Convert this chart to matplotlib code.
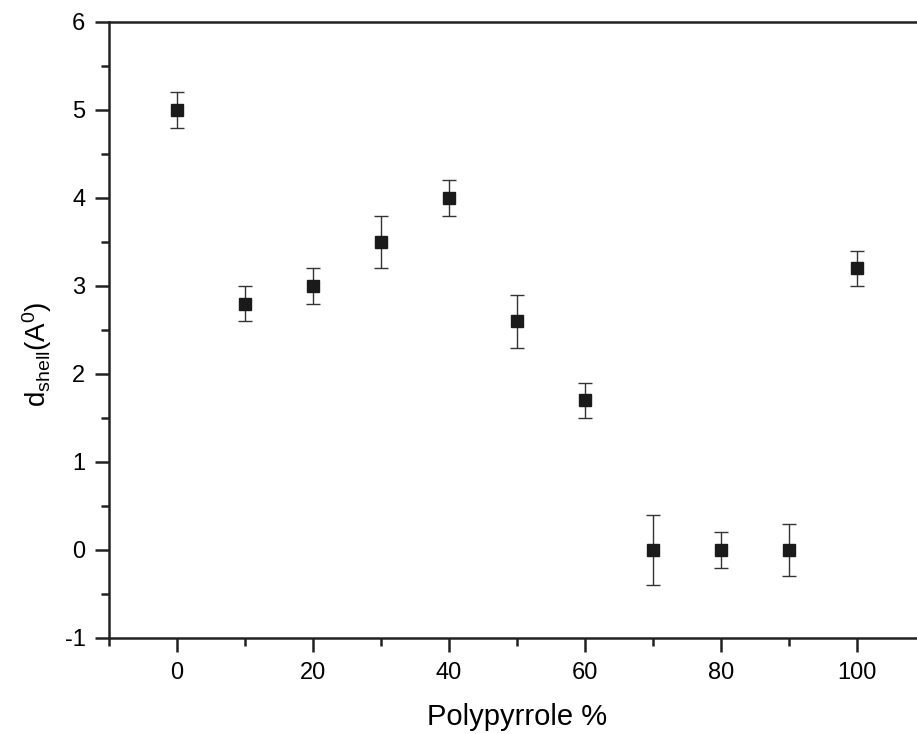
import matplotlib
matplotlib.use("Agg")
import matplotlib.pyplot as plt
from matplotlib.ticker import MultipleLocator

plt.rcParams["font.family"] = ["Liberation Sans", "DejaVu Sans"]
plt.rcParams["mathtext.fontset"] = "custom"
plt.rcParams["mathtext.rm"] = "Liberation Sans"
plt.rcParams["mathtext.it"] = "Liberation Sans"
plt.rcParams["axes.unicode_minus"] = False

polypyrrole_pct = [0, 10, 20, 30, 40, 50, 60, 70, 80, 90, 100]
d_shell = [5.0, 2.8, 3.0, 3.5, 4.0, 2.6, 1.7, 0.0, 0.0, 0.0, 3.2]
d_err = [0.2, 0.2, 0.2, 0.3, 0.2, 0.3, 0.2, 0.4, 0.2, 0.3, 0.2]

W, H = 917, 734
fig = plt.figure(figsize=(W / 100, H / 100), dpi=100)
left, right, top, bottom = 109, 925, 22, 638
ax = fig.add_axes([left / W, 1 - bottom / H, (right - left) / W, (bottom - top) / H])

ax.errorbar(polypyrrole_pct, d_shell, yerr=d_err, fmt="s", color="#1a1a1a",
            markersize=9, ecolor="#333333", elinewidth=1.0, capsize=4.8, capthick=1.0)

ax.set_xlim(-10, 110)
ax.set_ylim(-1, 6)
ax.xaxis.set_major_locator(MultipleLocator(20))
ax.xaxis.set_minor_locator(MultipleLocator(10))
ax.yaxis.set_major_locator(MultipleLocator(1))
ax.yaxis.set_minor_locator(MultipleLocator(0.5))

for s in ["left", "bottom", "top"]:
    ax.spines[s].set_linewidth(1.8)
    ax.spines[s].set_color("#222222")
ax.spines["right"].set_visible(False)

ax.tick_params(which="major", direction="out", length=10, width=1.8, labelsize=17, pad=7, color="#222222")
ax.tick_params(which="minor", direction="out", length=6, width=1.8, color="#222222")
ax.tick_params(top=False, right=False, which="both")

ax.set_xlabel("Polypyrrole %", fontsize=21, labelpad=14)
ax.set_ylabel(r"d$_{\mathrm{shell}}$(A$^{0}$)", fontsize=20)
ax.yaxis.set_label_coords(-0.068, 0.46)

fig.savefig("out.png", dpi=100)
